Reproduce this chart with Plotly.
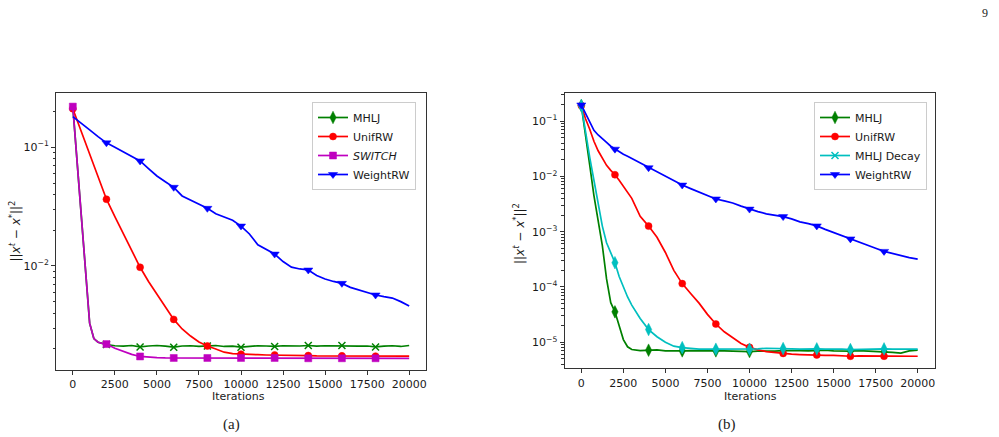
import plotly.graph_objects as go

W, H = 999, 437

# ---------------- panel (a) data ----------------
a_iter = list(range(0, 20001, 500))
a_unif = [0.211, 0.136, 0.0877, 0.0566, 0.0365, 0.0261, 0.0188, 0.0135, 0.00975, 0.0074,
          0.00575, 0.00447, 0.00355, 0.00295, 0.00257, 0.00229, 0.00212, 0.0020, 0.00188, 0.00183,
          0.00181, 0.0018, 0.00179, 0.00178, 0.00178, 0.00177, 0.00177, 0.00176, 0.00176, 0.00175,
          0.00175, 0.00175, 0.00175, 0.00174, 0.00174, 0.00174, 0.00174, 0.00174, 0.00174, 0.00174,
          0.00174]
a_weight = [0.181, 0.158, 0.140, 0.123, 0.109, 0.100, 0.0918, 0.0841, 0.0767, 0.0661,
            0.0573, 0.0513, 0.0460, 0.0389, 0.0360, 0.0331, 0.0306, 0.0275, 0.0257, 0.0243,
            0.0217, 0.0186, 0.0151, 0.0138, 0.0126, 0.0109, 0.00977, 0.00944, 0.00925, 0.00832,
            0.00776, 0.00741, 0.00714, 0.00661, 0.00631, 0.00596, 0.00570, 0.00552, 0.00537, 0.00501,
            0.00460]
a_switch_iter = [0, 250, 500, 750, 1000, 1250, 1500, 1750] + list(range(2000, 20001, 500))
a_switch = [0.22, 0.0767, 0.027, 0.0094, 0.0033, 0.00245, 0.00228, 0.00223,
            0.0022, 0.00203, 0.0019, 0.0018, 0.00173, 0.0017, 0.00169, 0.00168, 0.00168,
            0.00168, 0.00168, 0.00168, 0.00168, 0.00168, 0.00168, 0.00168, 0.00168, 0.00168,
            0.00168, 0.00168, 0.00168, 0.00168, 0.00168, 0.00167, 0.00167, 0.00167, 0.00167,
            0.00167, 0.00167, 0.00167, 0.00167, 0.00167, 0.00167, 0.00167, 0.00167, 0.00167,
            0.00167]
a_mhlj = [0.22, 0.0767, 0.027, 0.0094, 0.0033, 0.00245, 0.00228, 0.00223,
          0.00218, 0.00213, 0.00211, 0.00214, 0.00208, 0.00212, 0.00214, 0.00211, 0.00207,
          0.00212, 0.00213, 0.0021, 0.00212, 0.00214, 0.0021, 0.00211, 0.00207, 0.00211,
          0.00213, 0.00212, 0.0021, 0.00213, 0.00211, 0.00212, 0.00214, 0.00211, 0.00213,
          0.00212, 0.00214, 0.00213, 0.00211, 0.00212, 0.00208, 0.00211, 0.00213, 0.0021,
          0.00214]

# ---------------- panel (b) data ----------------
b_iter = [0, 250, 500, 750, 1000, 1250, 1500, 1750, 2000, 2250, 2500, 2750, 3000] + list(range(3500, 20001, 500))
b_mhlj = [0.19, 0.06, 0.016, 0.0045, 0.0016, 0.00056, 0.00014, 5.2e-5, 3.55e-5, 1.9e-5, 1.12e-5, 8.3e-6, 7.4e-6,
          7.1e-6, 7.2e-6, 7.3e-6, 7.0e-6, 6.9e-6, 7.0e-6, 7.1e-6, 7.0e-6, 7.1e-6, 7.0e-6,
          7.0e-6, 6.9e-6, 7.0e-6, 6.8e-6, 6.9e-6, 6.8e-6, 6.9e-6, 7.1e-6, 7.2e-6, 7.1e-6,
          7.0e-6, 7.1e-6, 7.2e-6, 7.0e-6, 6.9e-6, 6.9e-6, 7.1e-6, 7.0e-6, 6.8e-6, 6.8e-6,
          6.6e-6, 6.4e-6, 7.0e-6, 7.2e-6]
b_unif = [0.19, 0.11, 0.071, 0.043, 0.029, 0.021, 0.0158, 0.0128, 0.0107, 0.0085, 0.0066, 0.0052, 0.0040,
          0.0019, 0.00126, 7.9e-4, 4.2e-4, 2.0e-4, 1.15e-4, 7.6e-5, 5.1e-5, 3.2e-5, 2.14e-5,
          1.55e-5, 1.2e-5, 9.5e-6, 8.1e-6, 7.3e-6, 6.8e-6, 6.5e-6, 6.3e-6, 6.1e-6, 6.0e-6,
          5.9e-6, 5.9e-6, 5.8e-6, 5.8e-6, 5.7e-6, 5.6e-6, 5.7e-6, 5.7e-6, 5.6e-6, 5.6e-6,
          5.6e-6, 5.6e-6, 5.6e-6, 5.6e-6]
b_decay = [0.19, 0.063, 0.022, 0.0085, 0.0032, 0.00126, 6.3e-4, 4.0e-4, 2.75e-4, 1.55e-4, 1.0e-4, 6.6e-5, 4.7e-5,
           2.7e-5, 1.7e-5, 1.26e-5, 1.0e-5, 8.5e-6, 8.0e-6, 7.7e-6, 7.5e-6, 7.5e-6, 7.5e-6,
           7.4e-6, 7.5e-6, 7.6e-6, 7.5e-6, 7.6e-6, 7.8e-6, 7.8e-6, 7.7e-6, 7.6e-6, 7.5e-6,
           7.6e-6, 7.6e-6, 7.5e-6, 7.6e-6, 7.5e-6, 7.4e-6, 7.5e-6, 7.6e-6, 7.5e-6, 7.6e-6,
           7.5e-6, 7.5e-6, 7.6e-6, 7.5e-6]
b_weight = [0.195, 0.14, 0.095, 0.068, 0.056, 0.047, 0.041, 0.035, 0.031, 0.028, 0.025, 0.023, 0.021,
            0.017, 0.0143, 0.012, 0.0101, 0.0083, 0.00696, 0.006, 0.0052, 0.0045, 0.0039,
            0.0036, 0.0033, 0.0029, 0.00256, 0.0023, 0.0021, 0.002, 0.00187, 0.0017, 0.0015,
            0.0014, 0.00127, 0.0011, 0.00096, 0.00085, 0.00074, 0.00064, 0.00056, 0.0005, 0.00044,
            0.0004, 0.00037, 0.00034, 0.00032]

x_ticks = [0, 2500, 5000, 7500, 10000, 12500, 15000, 17500, 20000]
a_y_exps = [-1, -2]
b_y_exps = [-1, -2, -3, -4, -5]

GREEN, RED, MAG, BLUE, CYAN = "#008000", "#ff0000", "#bf00bf", "#0000ff", "#00bfbf"
FONT = "DejaVu Sans"
TXT = "#1a1a1a"
AX = "#333333"
FS = 11
LW = 1.7

fig = go.Figure()


def marker_style(symbol, color, size):
    if symbol == "x-thin":
        return dict(symbol=symbol, size=size, color=color, line=dict(width=1.5, color=color))
    return dict(symbol=symbol, size=size, color=color, line=dict(width=0.5, color=color))


def add_series(x, y, color, symbol, size, xa, ya, mstart):
    fig.add_trace(go.Scatter(x=x, y=y, mode="lines", line=dict(color=color, width=LW),
                             xaxis=xa, yaxis=ya, showlegend=False, hoverinfo="skip"))
    idx = [i for i, t in enumerate(x) if t % 2000 == 0 and mstart <= t < 20000]
    fig.add_trace(go.Scatter(x=[x[i] for i in idx], y=[y[i] for i in idx], mode="markers",
                             marker=marker_style(symbol, color, size),
                             xaxis=xa, yaxis=ya, showlegend=False, hoverinfo="skip"))


def add_legend(name, color, symbol, size, xa, ya, leg, rank):
    fig.add_trace(go.Scatter(x=[None], y=[None], mode="lines+markers", name=name,
                             line=dict(color=color, width=LW),
                             marker=marker_style(symbol, color, size),
                             xaxis=xa, yaxis=ya, legend=leg, legendrank=rank))


# panel (a)
add_series(a_switch_iter, a_mhlj, GREEN, "x-thin", 7, "x", "y", 2000)
add_series(a_iter, a_unif, RED, "circle", 7, "x", "y", 0)
add_series(a_switch_iter, a_switch, MAG, "square", 7, "x", "y", 0)
add_series(a_iter, a_weight, BLUE, "triangle-down", 8, "x", "y", 2000)
add_legend("MHLJ", GREEN, "diamond-tall", 9, "x", "y", "legend", 1)
add_legend("UnifRW", RED, "circle", 7, "x", "y", "legend", 2)
add_legend("<i>SWITCH</i>", MAG, "square", 7, "x", "y", "legend", 3)
add_legend("WeightRW", BLUE, "triangle-down", 8, "x", "y", "legend", 4)

# panel (b)
add_series(b_iter, b_mhlj, GREEN, "diamond-tall", 9, "x2", "y2", 0)
add_series(b_iter, b_unif, RED, "circle", 7, "x2", "y2", 0)
add_series(b_iter, b_decay, CYAN, "diamond-tall", 9, "x2", "y2", 0)
add_series(b_iter, b_weight, BLUE, "triangle-down", 8, "x2", "y2", 0)
add_legend("MHLJ", GREEN, "diamond-tall", 9, "x2", "y2", "legend2", 1)
add_legend("UnifRW", RED, "circle", 7, "x2", "y2", "legend2", 2)
add_legend("MHLJ Decay", CYAN, "x-thin", 7, "x2", "y2", "legend2", 3)
add_legend("WeightRW", BLUE, "triangle-down", 8, "x2", "y2", "legend2", 4)

# invisible anchors for minor-tick overlay axes
fig.add_trace(go.Scatter(x=[None], y=[None], xaxis="x", yaxis="y3", showlegend=False, hoverinfo="skip"))
fig.add_trace(go.Scatter(x=[None], y=[None], xaxis="x2", yaxis="y4", showlegend=False, hoverinfo="skip"))


def px_x(p):
    return p / W


def px_y(p):
    return 1 - p / H


minor_vals = [k * 10.0 ** e for e in range(-7, 1) for k in range(2, 10)]


def major_axis(exps):
    return dict(tickvals=[10.0 ** e for e in exps],
                ticktext=["10<sup>−%d</sup>" % (-e) for e in exps])


common_x = dict(range=[-1000, 21000], tickvals=x_ticks, ticktext=[str(v) for v in x_ticks],
                showline=True, mirror=True, linecolor=AX, linewidth=1, ticks="outside",
                ticklen=4, tickwidth=1, tickcolor=AX, showgrid=False, zeroline=False,
                tickfont=dict(family=FONT, size=FS, color=TXT))
common_y = dict(type="log", showline=True, mirror=True,
                linecolor=AX, linewidth=1, ticks="outside", ticklen=4, tickwidth=1,
                tickcolor=AX, showgrid=False, zeroline=False,
                tickfont=dict(family=FONT, size=FS, color=TXT))
minor_y = dict(type="log", tickvals=minor_vals, ticktext=[""] * len(minor_vals), ticks="outside",
               ticklen=2.5, tickwidth=0.8, tickcolor=AX, showline=False, showgrid=False,
               zeroline=False, side="left")

legend_common = dict(font=dict(family=FONT, size=FS, color=TXT), bgcolor="rgba(255,255,255,0.85)",
                     bordercolor="#cccccc", borderwidth=1, xanchor="right", yanchor="top",
                     tracegroupgap=0, itemwidth=30)

a_rng = [-2.876, -0.543]
b_rng = [-5.47, -0.488]

fig.update_layout(
    width=W, height=H, margin=dict(l=0, r=0, t=0, b=0),
    paper_bgcolor="white", plot_bgcolor="white",
    xaxis=dict(domain=[px_x(56), px_x(426)], anchor="y", **common_x),
    yaxis=dict(domain=[px_y(370), px_y(93)], anchor="x", range=a_rng, **major_axis(a_y_exps), **common_y),
    yaxis3=dict(domain=[px_y(370), px_y(93)], anchor="x", overlaying="y", range=a_rng, **minor_y),
    xaxis2=dict(domain=[px_x(564.5), px_x(934.5)], anchor="y2", **common_x),
    yaxis2=dict(domain=[px_y(368.3), px_y(92.7)], anchor="x2", range=b_rng, **major_axis(b_y_exps), **common_y),
    yaxis4=dict(domain=[px_y(368.3), px_y(92.7)], anchor="x2", overlaying="y2", range=b_rng, **minor_y),
    legend=dict(x=px_x(416), y=px_y(102), **legend_common),
    legend2=dict(x=px_x(927), y=px_y(102), **legend_common),
    showlegend=True,
)

ytitle = "||<i>x</i><sup><i>t</i></sup> − <i>x</i><sup>*</sup>||<sup>2</sup>"
anns = [
    dict(x=px_x(14), y=px_y(231.5), text=ytitle, textangle=-90, font=dict(family=FONT, size=12, color=TXT)),
    dict(x=px_x(519), y=px_y(234), text=ytitle, textangle=-90, font=dict(family=FONT, size=12, color=TXT)),
    dict(x=px_x(238), y=px_y(396), text="Iterations", font=dict(family=FONT, size=FS, color=TXT)),
    dict(x=px_x(750), y=px_y(396), text="Iterations", font=dict(family=FONT, size=FS, color=TXT)),
    dict(x=px_x(231), y=px_y(424), text="(a)", font=dict(family="Liberation Serif", size=15, color="#222")),
    dict(x=px_x(727), y=px_y(424), text="(b)", font=dict(family="Liberation Serif", size=15, color="#222")),
    dict(x=px_x(985), y=px_y(13), text="9", font=dict(family="Liberation Serif", size=12, color="#222")),
]
for a in anns:
    a.update(xref="paper", yref="paper", xanchor="center", yanchor="middle", showarrow=False)
fig.update_layout(annotations=anns)

fig.write_html("out.html")
